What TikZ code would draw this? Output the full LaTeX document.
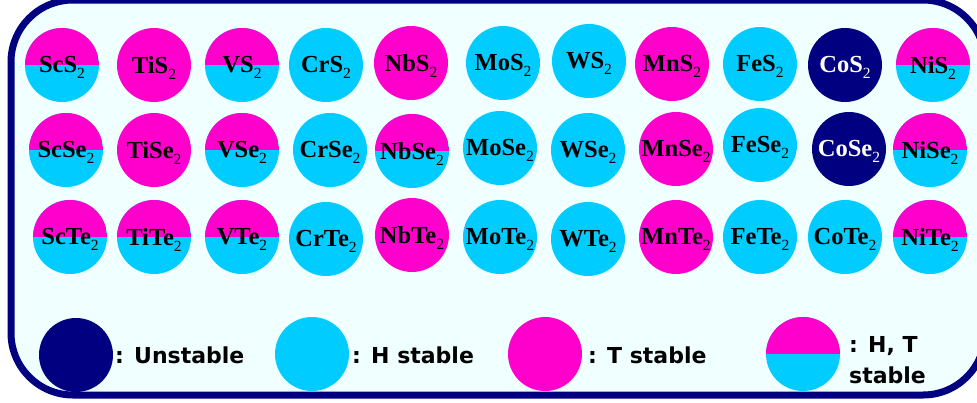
\documentclass[tikz,border=0pt]{standalone}
\usepackage{fontspec}
\setmainfont{Liberation Serif}
\newfontfamily\legfont{DejaVu Sans}
\definecolor{magc}{HTML}{FF00CC}
\definecolor{cyanc}{HTML}{00CCFF}
\definecolor{navyc}{HTML}{000080}
\definecolor{bgc}{HTML}{F0FFFF}
\newcommand\sub[1]{\raisebox{-6pt}[0pt][0pt]{\fontsize{15.5}{15.5}\selectfont\mdseries #1}}
\tikzset{
  ball/.style={circle, minimum size=74pt, inner sep=0pt, text=black,
    font=\fontsize{24.5}{24.5}\selectfont\bfseries},
  hball/.style={ball, fill=cyanc},
  tball/.style={ball, fill=magc},
  uball/.style={ball, fill=navyc, text=white},
  htball/.style={ball, fill=cyanc, path picture={\fill[magc] (path picture bounding box.west) rectangle (path picture bounding box.north east);}},
  legtext/.style={anchor=base west, inner sep=0pt, font=\legfont\bfseries\fontsize{22}{22}\selectfont}
}
\begin{document}
\begin{tikzpicture}[x=1pt,y=-1pt]
\useasboundingbox (0,0) rectangle (977,402);
\fill[white] (0,0) rectangle (977,402);
\draw[navyc, fill=bgc, line width=7pt, rounded corners=62pt] (11,0) rectangle (985,395);
% row 1
\node[htball] (scs) at (62,65) {ScS\sub{2}};
\node[tball] (tis) at (154,65) {TiS\sub{2}};
\node[htball] (vs) at (242,65) {VS\sub{2}};
\node[hball] (crs) at (326,65) {CrS\sub{2}};
\node[tball] (nbs) at (411,63) {NbS\sub{2}};
\node[hball] (mos) at (503,63) {MoS\sub{2}};
\node[hball] (ws) at (589,61) {WS\sub{2}};
\node[tball] (mns) at (672,64) {MnS\sub{2}};
\node[hball] (fes) at (760,64) {FeS\sub{2}};
\node[uball] (cos) at (845,65) {CoS\sub{2}};
\node[htball] (nis) at (933,65) {NiS\sub{2}};
% row 2
\node[htball] (scse) at (66,150) {ScSe\sub{2}};
\node[tball] (tise) at (154,150) {TiSe\sub{2}};
\node[htball] (vse) at (242,150) {VSe\sub{2}};
\node[hball] (crse) at (330,150) {CrSe\sub{2}};
\node[htball] (nbse) at (412,151) {NbSe\sub{2}};
\node[hball] (mose) at (500,148) {MoSe\sub{2}};
\node[hball] (wse) at (588,150) {WSe\sub{2}};
\node[tball] (mnse) at (676,149) {MnSe\sub{2}};
\node[hball] (fese) at (760,145) {FeSe\sub{2}};
\node[uball] (cose) at (849,149) {CoSe\sub{2}};
\node[htball] (nise) at (930,150) {NiSe\sub{2}};
% row 3
\node[htball] (scte) at (70,237) {ScTe\sub{2}};
\node[htball] (tite) at (154,237) {TiTe\sub{2}};
\node[htball] (vte) at (242,237) {VTe\sub{2}};
\node[hball] (crte) at (326,239) {CrTe\sub{2}};
\node[tball] (nbte) at (412,235) {NbTe\sub{2}};
\node[hball] (mote) at (500,237) {MoTe\sub{2}};
\node[hball] (wte) at (588,239) {WTe\sub{2}};
\node[tball] (mnte) at (676,237) {MnTe\sub{2}};
\node[hball] (fete) at (760,237) {FeTe\sub{2}};
\node[hball] (cote) at (845,237) {CoTe\sub{2}};
\node[htball] (nite) at (930,237) {NiTe\sub{2}};
% legend
\node[uball] (lu) at (76,355) {};
\node[legtext] (lut) at (115,363) {: Unstable};
\node[hball] (lh) at (312,354) {};
\node[legtext] (lht) at (352,363) {: H stable};
\node[tball] (lt) at (545,354) {};
\node[legtext] (ltt) at (588,363) {: T stable};
\node[htball] (lht2) at (803,354) {};
\node[legtext] (lhtt) at (849,352) {: H, T};
\node[legtext] (lhts) at (849,383) {stable};
\end{tikzpicture}
\end{document}
